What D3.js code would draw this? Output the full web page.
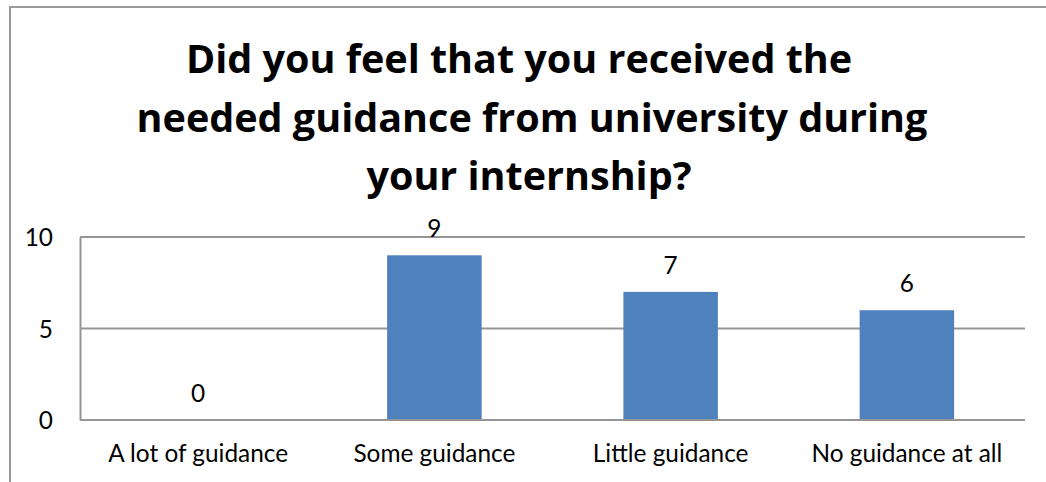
<!DOCTYPE html>
<html>
<head>
<meta charset="utf-8">
<script src="https://cdn.jsdelivr.net/npm/d3@7/dist/d3.min.js"></script>
<style>
  html, body { margin: 0; padding: 0; background: #fff; }
  svg { display: block; }
  text { font-family: Lato, "Open Sans", "Noto Sans", sans-serif; fill: #000; }
</style>
</head>
<body>
<svg id="chart" width="1046" height="482"></svg>
<script>
// Survey responses
const categories = ["A lot of guidance", "Some guidance", "Little guidance", "No guidance at all"];
const responses = [0, 9, 7, 6];
const yTicks = [0, 5, 10];
const titleLines = [
  "Did you feel that you received the",
  "needed guidance from university during",
  "your internship?"
];

const W = 1046, H = 482;
const plot = { left: 80, right: 1025, top: 237, bottom: 420 };
const svg = d3.select("#chart");

// Chart frame (runs off the right and bottom edges)
svg.append("rect")
  .attr("x", 10).attr("y", 7)
  .attr("width", W + 20).attr("height", H + 20)
  .attr("fill", "#fff")
  .attr("stroke", "#9a9a9a")
  .attr("stroke-width", 2);

const x = d3.scaleBand()
  .domain(categories)
  .range([plot.left, plot.right])
  .paddingInner(0.6)
  .paddingOuter(0.3);

const y = d3.scaleLinear()
  .domain([0, 10])
  .range([plot.bottom, plot.top]);

// Horizontal gridlines
svg.append("g")
  .selectAll("line")
  .data(yTicks.filter(t => t > 0))
  .join("line")
  .attr("x1", plot.left).attr("x2", plot.right)
  .attr("y1", d => y(d)).attr("y2", d => y(d))
  .attr("stroke", "#959595")
  .attr("stroke-width", 2);

// Bars
svg.append("g")
  .selectAll("rect")
  .data(responses)
  .join("rect")
  .attr("x", (d, i) => x(categories[i]))
  .attr("width", x.bandwidth())
  .attr("y", d => y(d))
  .attr("height", d => y(0) - y(d))
  .attr("fill", "#4F81BD");

// Value axis
const yAxis = svg.append("g")
  .attr("transform", `translate(${plot.left},0)`)
  .call(d3.axisLeft(y).tickValues(yTicks).tickSize(0).tickPadding(27).tickSizeOuter(0));
yAxis.select(".domain").attr("stroke", "#959595").attr("stroke-width", 2);
yAxis.selectAll("text").attr("font-size", 21).attr("dy", "0.36em")
  .style("font-family", "Lato, 'Open Sans', sans-serif");

// Category axis
const xAxis = svg.append("g")
  .attr("transform", `translate(0,${plot.bottom})`)
  .call(d3.axisBottom(x).tickSize(0).tickSizeOuter(0).tickPadding(0));
xAxis.select(".domain").remove();
xAxis.append("line")
  .attr("x1", plot.left).attr("x2", plot.right)
  .attr("y1", 0).attr("y2", 0)
  .attr("stroke", "#959595").attr("stroke-width", 2);
xAxis.selectAll(".tick text")
  .attr("font-size", 21)
  .attr("dy", null)
  .attr("y", 42)
  .style("font-family", "Lato, 'Open Sans', sans-serif");

// Fit category label size so "A lot of guidance" is about 180px wide
const firstLabel = xAxis.select(".tick text").node();
const labelSize = 21 * 180 / firstLabel.getComputedTextLength();
xAxis.selectAll(".tick text").attr("font-size", labelSize);
yAxis.selectAll("text").attr("font-size", labelSize);

// Data labels above bars
svg.append("g")
  .selectAll("text")
  .data(responses)
  .join("text")
  .attr("x", (d, i) => x(categories[i]) + x.bandwidth() / 2)
  .attr("y", d => y(d) - 18)
  .attr("text-anchor", "middle")
  .attr("font-size", labelSize)
  .text(d => d);

// Title
const titleCenters = [519, 532, 529];
const titleBaselines = [73, 132, 190];
const title = svg.append("g")
  .selectAll("text")
  .data(titleLines)
  .join("text")
  .attr("x", (d, i) => titleCenters[i])
  .attr("y", (d, i) => titleBaselines[i])
  .attr("text-anchor", "middle")
  .style("font-family", "'Open Sans', Lato, sans-serif")
  .attr("font-weight", "bold")
  .attr("font-size", 40)
  .text(d => d);
const mid = title.nodes()[1].getComputedTextLength();
title.attr("font-size", 40 * 791 / mid);
</script>
</body>
</html>
